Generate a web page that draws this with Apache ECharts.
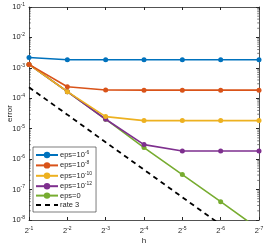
<!DOCTYPE html>
<html><head><meta charset="utf-8">
<script src="https://cdn.jsdelivr.net/npm/echarts@6/dist/echarts.min.js"></script>
<style>html,body{margin:0;padding:0;background:#fff}#c{width:270px;height:245px}</style>
</head><body><div id="c"></div>
<script>
var hValues = [0.5, 0.25, 0.125, 0.0625, 0.03125, 0.015625, 0.0078125];
var seriesNames = ['eps=1e-6', 'eps=1e-8', 'eps=1e-10', 'eps=1e-12', 'eps=0', 'rate 3'];
var legendBase = ['eps=10', 'eps=10', 'eps=10', 'eps=10', 'eps=0', 'rate 3'];
var legendSup = ['-6', '-8', '-10', '-12', '', ''];
var err1e6 = [2.2e-3, 1.85e-3, 1.85e-3, 1.85e-3, 1.85e-3, 1.85e-3, 1.85e-3];
var err1e8 = [1.3e-3, 2.4e-4, 1.87e-4, 1.85e-4, 1.85e-4, 1.85e-4, 1.85e-4];
var err1e10 = [1.3e-3, 1.65e-4, 2.5e-5, 1.85e-5, 1.85e-5, 1.85e-5, 1.85e-5];
var err1e12 = [1.3e-3, 1.65e-4, 2.05e-5, 3.0e-6, 1.85e-6, 1.85e-6, 1.85e-6];
var err0 = [1.3e-3, 1.65e-4, 2.05e-5, 2.4e-6, 3.1e-7, 4.0e-8, 5.0e-9];
var rate3 = [2.3e-4, 2.9e-5, 3.6e-6, 4.5e-7, 5.6e-8, 7.0e-9];
var colors = ['#0072BD', '#D95319', '#EDB120', '#7E2F8E', '#77AC30', '#000000'];
var yDecades = [-8, -7, -6, -5, -4, -3, -2];
var minorMantissas = [2, 3, 4, 5, 6, 7, 8, 9];

var FONT = 'Liberation Sans';
function pairs(vals){ return vals.map(function(v,i){ return [hValues[i], v]; }); }
var allData = [err1e6, err1e8, err1e10, err1e12, err0, rate3];

// minor tick values (log-spaced, as on a log axis)
var minorVals = [];
yDecades.forEach(function(e){ minorMantissas.forEach(function(m){ minorVals.push([m * Math.pow(10, e)]); }); });

var chart = echarts.init(document.getElementById('c'), null, {renderer:'canvas'});
var supRich = {
  b: {fontSize: 7.5, fontFamily: FONT, color: '#262626'},
  s: {fontSize: 5, fontFamily: FONT, color: '#262626', verticalAlign: 'bottom', padding: [0,0,5,0]}
};
var series = allData.map(function(d, i){
  var isRate = (i === 5);
  return {
    name: seriesNames[i], type: 'line', data: pairs(d),
    xAxisIndex: 0, yAxisIndex: 0,
    symbol: 'circle', symbolSize: 5,
    showSymbol: !isRate,
    lineStyle: {color: colors[i], width: isRate ? 1.8 : 1.6, type: isRate ? [5,4] : 'solid'},
    itemStyle: {color: colors[i]},
    clip: true, animation: false, z: 10 - i
  };
});
series.push({
  type: 'custom', name: 'minorTicks', xAxisIndex: 0, yAxisIndex: 0, silent: true, z: 1,
  data: minorVals,
  renderItem: function(params, api){
    var y = api.coord([0.5, api.value(0)])[1];
    var cs = params.coordSys;
    var st = {stroke: '#262626', lineWidth: 0.6};
    return {type: 'group', children: [
      {type: 'line', shape: {x1: cs.x, y1: y, x2: cs.x + 1.8, y2: y}, style: st},
      {type: 'line', shape: {x1: cs.x + cs.width, y1: y, x2: cs.x + cs.width - 1.8, y2: y}, style: st}
    ]};
  }
});
var legendData = seriesNames.map(function(n, i){
  return i === 5 ? {name: n, itemStyle: {opacity: 0}} : {name: n};
});
var axisLine = {show: true, lineStyle: {color: '#262626', width: 0.8}};
chart.setOption({
  animation: false,
  grid: {left: 29, right: 11, top: 7, bottom: 25, containLabel: false, outerBoundsMode: 'none'},
  legend: {
    left: 33, top: 147, orient: 'vertical',
    backgroundColor: '#fff', borderColor: '#262626', borderWidth: 0.6, borderRadius: 0,
    padding: [3, 4, 3, 2], itemGap: 1.4, itemWidth: 22, itemHeight: 8,
    data: legendData,
    formatter: function(name){
      var i = seriesNames.indexOf(name);
      return legendSup[i] ? '{b|' + legendBase[i] + '}{s|' + legendSup[i] + '}' : '{b|' + legendBase[i] + '}';
    },
    textStyle: {fontSize: 7.5, fontFamily: FONT, color: '#262626', padding: [0,0,0,-3], rich: supRich}
  },
  xAxis: [{
    type: 'log', logBase: 2, min: 0.0078125, max: 0.5, inverse: true,
    name: 'h', nameLocation: 'middle', nameGap: 17, nameMoveOverlap: false,
    nameTextStyle: {fontSize: 8, fontFamily: FONT, color: '#262626'},
    axisLine: axisLine, axisTick: {show: true, inside: true, length: 3, lineStyle: {color:'#262626'}},
    splitLine: {show: false},
    axisLabel: {margin: 6, color: '#262626', rich: supRich,
      formatter: function(v){ var e = Math.round(Math.log2(v)); return '{b|2}{s|' + e + '}'; }}
  }, {
    type: 'log', logBase: 2, min: 0.0078125, max: 0.5, inverse: true, position: 'top',
    axisLine: axisLine, axisTick: {show: true, inside: true, length: 3, lineStyle: {color:'#262626'}},
    axisLabel: {show: false}, splitLine: {show: false}
  }],
  yAxis: [{
    type: 'log', logBase: 10, min: 1e-8, max: 1e-1,
    name: 'error', nameLocation: 'middle', nameGap: 15, nameMoveOverlap: false,
    nameTextStyle: {fontSize: 8, fontFamily: FONT, color: '#262626'},
    axisLine: axisLine, axisTick: {show: true, inside: true, length: 3, lineStyle: {color:'#262626'}},
    splitLine: {show: false},
    axisLabel: {margin: 4, color: '#262626', rich: supRich,
      formatter: function(v){ var e = Math.round(Math.log10(v)); return '{b|10}{s|' + e + '}'; }}
  }, {
    type: 'log', logBase: 10, min: 1e-8, max: 1e-1, position: 'right',
    axisLine: axisLine, axisTick: {show: true, inside: true, length: 3, lineStyle: {color:'#262626'}},
    axisLabel: {show: false}, splitLine: {show: false}
  }],
  series: series
});
</script></body></html>
